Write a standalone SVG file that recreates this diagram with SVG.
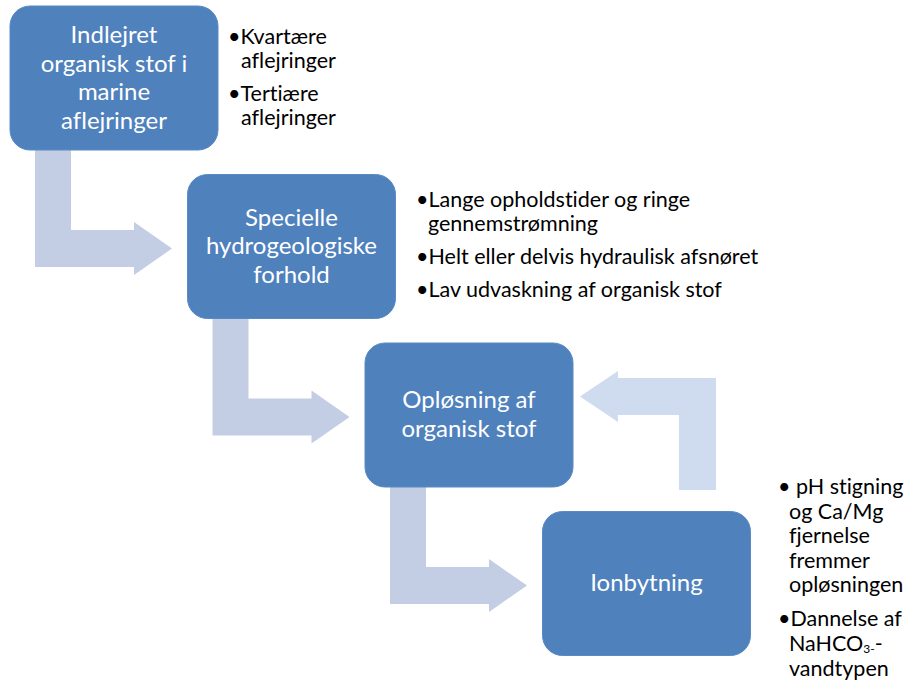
<svg xmlns="http://www.w3.org/2000/svg" width="910" height="684" viewBox="0 0 910 684">
<style>
.box{fill:#4f81bd;stroke:#5a8ac4;stroke-width:1}
.bt{font-family:Lato,"Liberation Sans",sans-serif;font-size:24px;fill:#ffffff;text-anchor:middle;font-variant-ligatures:none}
.st{font-family:Lato,"Liberation Sans",sans-serif;font-size:21.5px;fill:#000000;font-variant-ligatures:none}
.arr{fill:#c3cde3}
.arr2{fill:#cfdbef}
</style>
<rect width="910" height="684" fill="#ffffff"/>
<g id="connectors">
<path class="arr" d="M35,150 L71,150 L71,230 L134,230 L134,222 L172,248.5 L134,275 L134,267 L35,267 Z"/>
<path class="arr" d="M212.5,318.5 L248.5,318.5 L248.5,398.5 L311.5,398.5 L311.5,390.5 L349.5,417 L311.5,443.5 L311.5,435.5 L212.5,435.5 Z"/>
<path class="arr" d="M390,487 L426,487 L426,567 L489,567 L489,559 L527,585.5 L489,612 L489,604 L390,604 Z"/>
<path class="arr2" d="M716,490 L716,378 L618,378 L618,371 L580,396.5 L618,422 L618,415 L679,415 L679,490 Z"/>
</g>
<g id="node1">
<rect class="box" x="10" y="6" width="208" height="144" rx="20"/>
<text class="bt" x="114" y="43">Indlejret</text>
<text class="bt" x="114" y="71.5">organisk stof i</text>
<text class="bt" x="114" y="100">marine</text>
<text class="bt" x="114" y="128.5">aflejringer</text>
</g>
<g id="note1">
<text class="st" x="228" y="44">•Kvartære</text>
<text class="st" x="241" y="68">aflejringer</text>
<text class="st" x="228" y="101">•Tertiære</text>
<text class="st" x="241" y="125">aflejringer</text>
</g>
<g id="node2">
<rect class="box" x="187.5" y="174.5" width="208" height="144" rx="20"/>
<text class="bt" x="291.5" y="225.5">Specielle</text>
<text class="bt" x="291.5" y="254">hydrogeologiske</text>
<text class="bt" x="291.5" y="282.5">forhold</text>
</g>
<g id="note2">
<text class="st" x="416" y="207">•Lange opholdstider og ringe</text>
<text class="st" x="428" y="231">gennemstrømning</text>
<text class="st" x="416" y="264">•Helt eller delvis hydraulisk afsnøret</text>
<text class="st" x="416" y="297">•Lav udvaskning af organisk stof</text>
</g>
<g id="node3">
<rect class="box" x="365" y="343" width="208" height="144" rx="20"/>
<text class="bt" x="469" y="408">Opløsning af</text>
<text class="bt" x="469" y="437">organisk stof</text>
</g>
<g id="node4">
<rect class="box" x="542.5" y="511.5" width="208" height="144" rx="20"/>
<text class="bt" x="646.5" y="591">Ionbytning</text>
</g>
<g id="note4">
<text class="st" x="778" y="494">• pH stigning</text>
<text class="st" x="789" y="518.5">og Ca/Mg</text>
<text class="st" x="789" y="543">fjernelse</text>
<text class="st" x="789" y="567.5">fremmer</text>
<text class="st" x="789" y="592">opløsningen</text>
<text class="st" x="778" y="626">•Dannelse af</text>
<text class="st" x="789" y="650.5">NaHCO<tspan font-size="12" dy="2">3-</tspan><tspan dy="-2">-</tspan></text>
<text class="st" x="789" y="675.5">vandtypen</text>
</g>
</svg>
